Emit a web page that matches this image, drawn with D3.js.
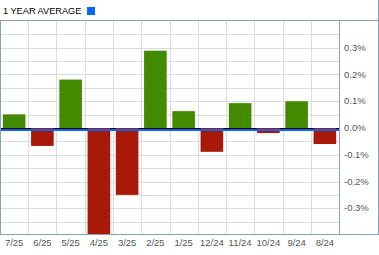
<!DOCTYPE html>
<html>
<head>
<meta charset="utf-8">
<title>1 Year Average</title>
<script src="https://cdnjs.cloudflare.com/ajax/libs/d3/7.8.5/d3.min.js"></script>
<style>
  body { margin: 0; background: #fff; }
  text { font-family: "Liberation Sans", Arial, sans-serif; }
</style>
</head>
<body>
<svg id="chart" width="379" height="255"></svg>
<script>
// data (percent)
var months = ['7/25', '6/25', '5/25', '4/25', '3/25', '2/25', '1/25', '12/24', '11/24', '10/24', '9/24', '8/24'];
var values = [0.051, -0.067, 0.181, -0.42, -0.25, 0.289, 0.063, -0.089, 0.093, -0.019, 0.10, -0.06];
var yTicks = [0.3, 0.2, 0.1, 0.0, -0.1, -0.2, -0.3];
var gridTicks = [0.35, 0.3, 0.25, 0.2, 0.15, 0.1, 0.05, -0.05, -0.1, -0.15, -0.2, -0.25, -0.3, -0.35];

var svg = d3.select('#chart');
var plotLeft = 0, plotRight = 339, plotTop = 20, plotBottom = 234;

var x = d3.scaleBand().domain(months).range([plotLeft, plotRight]).paddingInner(0.2).paddingOuter(0.1);
var y = d3.scaleLinear().domain([-0.4, 0.4]).range([235, 21]);
var step = x.step();

// header
svg.append('text').attr('x', 3).attr('y', 14).attr('font-size', 9.2).attr('fill', '#000')
  .text('1 YEAR AVERAGE');
svg.append('rect').attr('x', 87).attr('y', 7).attr('width', 8).attr('height', 8).attr('fill', '#0a64f5');

// clip for plot
svg.append('clipPath').attr('id', 'plotclip').append('rect')
  .attr('x', plotLeft).attr('y', plotTop).attr('width', plotRight - plotLeft).attr('height', plotBottom - plotTop);

var plot = svg.append('g').attr('clip-path', 'url(#plotclip)');

// grid
plot.selectAll('.hgrid').data(gridTicks).enter().append('line')
  .attr('x1', plotLeft).attr('x2', plotRight)
  .attr('y1', function(d) { return Math.round(y(d)) + 0.5; })
  .attr('y2', function(d) { return Math.round(y(d)) + 0.5; })
  .attr('stroke', '#dcdcdc').attr('stroke-width', 1);

plot.selectAll('.vgrid').data(months.slice(1)).enter().append('line')
  .attr('x1', function(d) { return Math.round(x(d) - step * 0.1) + 0.5; })
  .attr('x2', function(d) { return Math.round(x(d) - step * 0.1) + 0.5; })
  .attr('y1', plotTop).attr('y2', plotBottom)
  .attr('stroke', '#dcdcdc').attr('stroke-width', 1);

// black zero line under bars
plot.append('line').attr('x1', plotLeft).attr('x2', plotRight)
  .attr('y1', y(0) + 0.5).attr('y2', y(0) + 0.5)
  .attr('stroke', '#000').attr('stroke-width', 1);

// bars
plot.selectAll('.bar').data(values).enter().append('rect')
  .attr('x', function(d, i) { return x(months[i]); })
  .attr('width', x.bandwidth())
  .attr('y', function(d) { return d >= 0 ? y(d) : y(0); })
  .attr('height', function(d) { return Math.abs(y(d) - y(0)); })
  .attr('fill', function(d) { return d >= 0 ? '#438a00' : '#a8190a'; });

// blue line
plot.append('line').attr('x1', plotLeft).attr('x2', plotRight)
  .attr('y1', y(0) + 2).attr('y2', y(0) + 2)
  .attr('stroke', '#0a64f5').attr('stroke-width', 2);

// borders
var border = '#8aa0bb';
svg.append('line').attr('x1', 0).attr('x2', 379).attr('y1', 20.5).attr('y2', 20.5).attr('stroke', border);
svg.append('line').attr('x1', 0).attr('x2', 379).attr('y1', 234.5).attr('y2', 234.5).attr('stroke', border);
svg.append('line').attr('x1', 0.5).attr('x2', 0.5).attr('y1', 20).attr('y2', 235).attr('stroke', border);
svg.append('line').attr('x1', 378.5).attr('x2', 378.5).attr('y1', 0).attr('y2', 235).attr('stroke', border);
svg.append('line').attr('x1', plotRight + 0.5).attr('x2', plotRight + 0.5).attr('y1', 20).attr('y2', 235).attr('stroke', border);

// right axis labels
svg.selectAll('.ylab').data(yTicks).enter().append('text')
  .attr('x', 344).attr('y', function(d) { return y(d); }).attr('dy', '0.33em')
  .attr('font-size', 9.5).attr('fill', '#555')
  .text(function(d) { return d3.format('.1f')(d).replace('−', '-') + '%'; });

// x labels
svg.selectAll('.xlab').data(months).enter().append('text')
  .attr('x', function(d) { return x(d) + x.bandwidth() / 2; }).attr('y', 246)
  .attr('text-anchor', 'middle').attr('font-size', 9.5).attr('fill', '#555')
  .text(function(d) { return d; });
</script>
</body>
</html>
